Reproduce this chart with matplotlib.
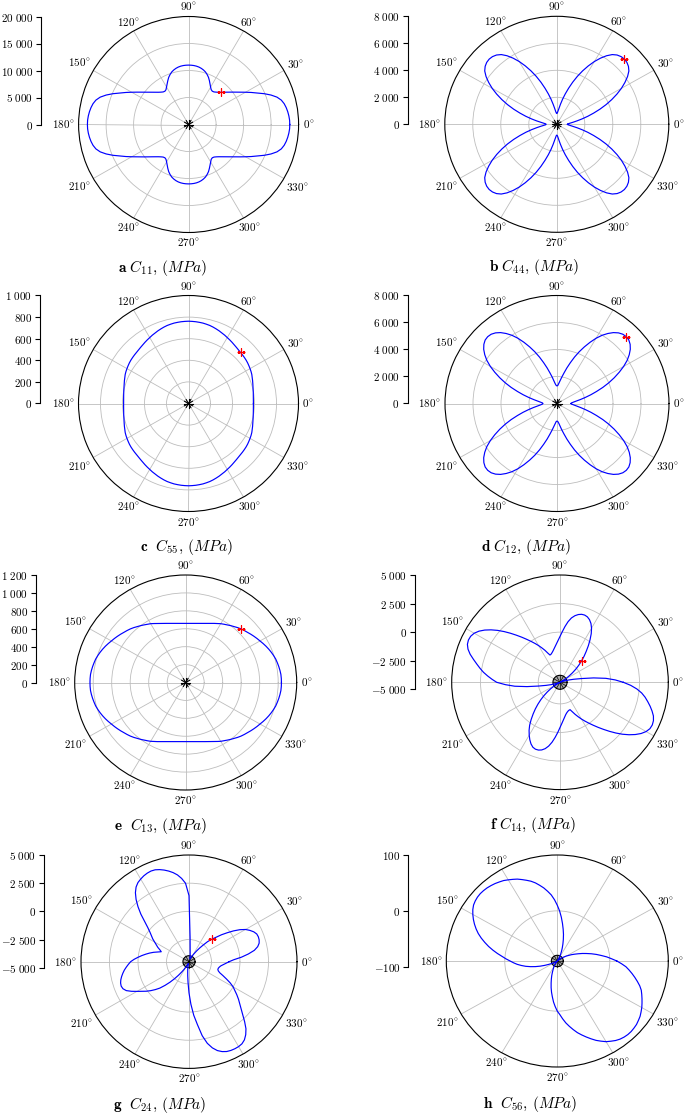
"""Polar plots of rotated stiffness components C_ij(theta), 4 x 2 panels."""
import numpy as np
import matplotlib.pyplot as plt

plt.rcParams["mathtext.fontset"] = "cm"
plt.rcParams["font.family"] = "serif"
plt.rcParams["font.serif"] = ["cmr10", "DejaVu Serif"]
plt.rcParams["axes.unicode_minus"] = False

W, H = 685, 1113

# ---- curves, MPa ----
# quarter period, 0..90 deg every 2.5 deg (curves are mirror symmetric)
ANG_Q = np.arange(0, 90.1, 2.5)
C11 = [18400, 18380, 18300, 18180, 18020, 17800, 17450, 16850, 15950, 14900,
       13800, 12850, 11950, 11150, 10450, 9850, 9300, 8850, 8450, 8100,
       7820, 7600, 7520, 7650, 8000, 8450, 8950, 9450, 9850, 10200,
       10450, 10650, 10800, 10900, 10960, 10990, 11000]
C44 = [760, 800, 950, 1170, 1470, 1850, 2290, 2760, 3280, 3810,
       4330, 4840, 5330, 5770, 6170, 6490, 6680, 6790, 6830, 6800,
       6700, 6510, 6200, 5810, 5370, 4880, 4370, 3850, 3320, 2800,
       2330, 1900, 1510, 1200, 970, 840, 800]
C55 = [590, 590.5, 592, 594.5, 598, 602, 607, 613, 620, 627,
       635, 641, 646, 651, 656, 660, 663, 666, 669, 673,
       678, 684, 691, 698, 705, 713, 720, 728, 735, 742,
       748, 752, 756, 758, 760, 761, 762]
C12 = [1000, 1046, 1180, 1400, 1700, 2070, 2500, 2960, 3480, 4000,
       4510, 5010, 5500, 5940, 6300, 6600, 6820, 6960, 7000, 6960,
       6830, 6620, 6330, 5990, 5580, 5110, 4630, 4150, 3660, 3170,
       2730, 2320, 1990, 1700, 1470, 1340, 1300]
C13 = [1035, 1034.5, 1033, 1028, 1022, 1015, 1008, 997, 985, 972,
       958, 943, 928, 914, 900, 886, 872, 859, 846, 831,
       815, 800, 785, 771, 758, 742, 728, 714, 702, 692,
       683, 676, 670, 665, 662, 660.5, 660]

# full turn, 0..357.5 deg every 2.5 deg
ANG_F = np.arange(0, 360, 2.5)
C14 = [1100, 400, -400, -1450, -2500, -3150, -3600, -3950, -4150, -4280,
       -4340, -4250, -4050, -3780, -3420, -3030, -2600, -2180, -1750, -1300,
       -850, -350, 150, 650, 1080, 1420, 1660, 1810, 1870, 1850,
       1750, 1580, 1330, 960, 500, 30, -380, -720, -1000, -1230,
       -1420, -1580, -1710, -1810, -1850, -1620, -1300, -1000, -680, -360,
       -20, 350, 760, 1200, 1680, 2180, 2680, 3150, 3580, 3940,
       4200, 4340, 4370, 4300, 4100, 3780, 3380, 3000, 2650, 2300,
       1900, 1500,
       1100, 350, -450, -1500, -2500, -3150, -3600, -3950, -4150, -4280,
       -4340, -4250, -4050, -3770, -3400, -3000, -2570, -2130, -1680, -1220,
       -760, -280, 200, 600, 950, 1280, 1560, 1760, 1840, 1830,
       1740, 1560, 1280, 900, 450, 0, -420, -780, -1080, -1320,
       -1520, -1660, -1760, -1820, -1840, -1600, -1300, -1000, -680, -360,
       -20, 350, 760, 1200, 1680, 2180, 2680, 3150, 3580, 3950,
       4230, 4400, 4440, 4380, 4230, 3980, 3700, 3400, 3100, 2750,
       2300, 1750]
C24 = [-950, -550, 150, 780, 1350, 1700, 1900, 1980, 2000, 1960,
       1800, 1550, 1250, 820, 300, -250, -750, -1250, -1650, -2050,
       -2550, -2950, -3300, -3580, -3800, -3980, -4100, -4180, -4220, -4200,
       -4130, -4030, -3870, -3680, -3350, -2300, 1400, 2500, 2950, 3300,
       3560, 3770, 3950, 4100, 4210, 4240, 4200, 4120, 4000, 3860,
       3620, 3250, 2750, 2150, 1500, 800, 250, -150, -450, -700,
       -1000, -1250, -1450, -1700, -1880, -1600, -1250, -930, -620, -300,
       20, 350,
       650, 850, 1050, 1250, 1420, 1580, 1720, 1820, 1860, 1800,
       1600, 1220, 800, 420, 100, -250, -620, -1000, -1500, -2000,
       -2500, -2950, -3350, -3650, -3900, -4080, -4200, -4270, -4290, -4250,
       -4170, -4030, -3850, -3600, -3200, -2600, -1700, -700, 300, 1150,
       2200, 2950, 3450, 3800, 4020, 4160, 4220, 4240, 4230, 4170,
       4000, 3700, 3300, 2750, 2200, 1750, 1350, 1000, 650, 300,
       0, -400, -850, -1250, -1600, -1780, -1850, -1830, -1760, -1650,
       -1450, -1200]
C56 = [12, 3, -5, -14, -22, -30, -38, -45, -52, -58,
       -63, -68, -72, -76, -79, -82, -84, -86, -87.5, -88.5,
       -89, -89, -88, -86.5, -84, -80.5, -76, -71, -65, -58,
       -50, -41, -32, -22, -11, 0, 10, 20, 29, 36,
       43, 49, 55, 60, 64, 68, 72, 75, 78, 81,
       83, 85, 86.5, 87.8, 88.5, 88.8, 88.3, 87, 85, 81.5,
       77, 72, 66.5, 60.5, 54, 46.5, 38.5, 30.5, 22, 13.5,
       5, -2,
       -9, -15, -21, -28, -35, -43, -51, -59, -67, -74,
       -79, -83, -86, -88, -89, -89.5, -89.5, -89.2, -88.7, -88,
       -87, -85.5, -83.5, -81, -78.5, -76, -72.5, -68, -62, -56,
       -49, -41, -33, -25, -16, -8, 0, 6, 14, 22,
       29, 36, 43, 49, 55, 61, 67, 72, 77, 80.5,
       84, 86.5, 88, 88.8, 88.8, 88, 87, 85, 83, 80,
       77, 73.5, 70, 66.5, 63, 58, 52, 46, 40, 34,
       28, 20]

# radial scale: ticks, value at the pole
TICKS = [
    [0, 5000, 10000, 15000, 20000],
    [0, 2000, 4000, 6000, 8000],
    [0, 200, 400, 600, 800, 1000],
    [0, 2000, 4000, 6000, 8000],
    [0, 200, 400, 600, 800, 1000, 1200],
    [-5000, -2500, 0, 2500, 5000],
    [-5000, -2500, 0, 2500, 5000],
    [-100, 0, 100],
]
POLE = [0, 0, 0, 0, 0, -4388, -4468, -89.8]

CAPTIONS = [
    r"$\mathbf{a}\ C_{11},\,(MPa)$",
    r"$\mathbf{b}\ C_{44},\,(MPa)$",
    r"$\mathbf{c}\ \ C_{55},\,(MPa)$",
    r"$\mathbf{d}\ C_{12},\,(MPa)$",
    r"$\mathbf{e}\ \ C_{13},\,(MPa)$",
    r"$\mathbf{f}\ C_{14},\,(MPa)$",
    r"$\mathbf{g}\ \ C_{24},\,(MPa)$",
    r"$\mathbf{h}\ \ C_{56},\,(MPa)$",
]

# layout in pixels: centre x, centre y, radius x, radius y, radial-axis x, caption x
LAYOUT = [
    (188.6, 124.5, 110, 108, 41.0, 162),
    (556.8, 124.3, 112, 108, 407.7, 534),
    (188.5, 403.5, 110, 108, 40.0, 186),
    (557.0, 403.5, 112, 108, 407.5, 526),
    (185.7, 682.5, 111, 107.5, 35.7, 160),
    (560.0, 682.3, 108.3, 107.3, 415.0, 533),
    (189.0, 961.7, 108, 106.7, 44.3, 160),
    (557.3, 961.0, 111, 106, 408.3, 530),
]

BLUE = "#0000ff"
GRID = "#bdbdbd"
FS = 8
GAP = 4.0


def quarter_to_full(q):
    q = np.asarray(q, float)
    deg = np.concatenate([ANG_Q, 180 - ANG_Q[::-1], 180 + ANG_Q, 360 - ANG_Q[::-1]])
    r = np.concatenate([q, q[::-1], q, q[::-1]])
    return np.deg2rad(deg), r


def turn_to_full(v):
    v = np.asarray(v, float)
    deg = np.append(ANG_F, 360)
    return np.deg2rad(deg), np.append(v, v[0])


def fmt(v):
    s = f"{abs(int(v)):,}".replace(",", r"\ ")
    return ("$-" if v < 0 else "$") + s + "$"


def draw_panel(fig, renderer, theta, r, ticks, pole, caption, lay, marker=True):
    cx, cy, rx, ry, axx, capx = lay
    lo, hi = ticks[0], ticks[-1]
    ax = fig.add_axes([(cx - rx) / W, 1 - (cy + ry) / H, 2 * rx / W, 2 * ry / H],
                      projection="polar")
    ax.set_aspect("auto")
    ax.set_ylim(pole, hi)
    ax.set_rticks([t for t in ticks if pole < t < hi])
    ax.set_yticklabels([])
    ax.set_thetagrids(range(0, 360, 30), labels=[])
    ax.grid(True, color=GRID, lw=0.6)
    ax.tick_params(axis="x", length=0)
    ax.spines["polar"].set_color("k")
    ax.spines["polar"].set_linewidth(0.8)

    per_px = (hi - pole) / ry
    spokes = np.deg2rad(np.arange(0, 360, 30))
    if lo < pole:
        # the lowest tick lies "behind" the pole: small circle round it
        rr = pole + (pole - lo)
        tc = np.linspace(0, 2 * np.pi, 100)
        ax.fill(tc, np.full_like(tc, rr), color="#a8a8a8", lw=0, zorder=2.1)
        ax.plot(tc, np.full_like(tc, rr), color="k", lw=0.8, zorder=2.2)
        for t in spokes:
            ax.plot([t, t], [pole, rr], color="k", lw=0.5, zorder=2.2)
    else:
        for t in spokes:
            ax.plot([t, t], [pole, pole + 4.5 * per_px], color="k", lw=0.8, zorder=2.2)

    ax.plot(theta, r, color=BLUE, lw=0.85, zorder=3)
    if marker:
        i45 = np.argmin(np.abs(theta - np.deg2rad(45)))
        ax.plot(theta[i45], r[i45], marker="+", color="red", ms=6, mew=0.9, zorder=4)

    # radial axis on the left
    top = cy - ry
    bot = cy + (pole - lo) / per_px
    rax = fig.add_axes([axx / W, 1 - bot / H, 0.02, (bot - top) / H])
    rax.set_ylim(lo, hi)
    for side in ("top", "right", "bottom"):
        rax.spines[side].set_visible(False)
    rax.spines["left"].set_linewidth(0.8)
    rax.patch.set_visible(False)
    rax.set_xticks([])
    rax.set_yticks(ticks)
    rax.set_yticklabels([fmt(t) for t in ticks])
    rax.tick_params(axis="y", direction="out", length=3.3, width=0.8,
                    pad=2.4, labelsize=FS)

    # angle labels around the rim
    for d in range(0, 360, 30):
        txt = fig.text(0, 0, rf"${d}^{{\!\circ}}$", ha="center", va="center",
                       fontsize=FS)
        bb = txt.get_window_extent(renderer)
        a = np.deg2rad(d)
        c, s = np.cos(a), np.sin(a)
        tx = bb.width / 2 / abs(c) if abs(c) > 1e-9 else np.inf
        ty = bb.height / 2 / abs(s) if abs(s) > 1e-9 else np.inf
        dist = min(tx, ty) + GAP
        x = cx + rx * c + dist * c
        y = cy - ry * s - dist * s
        txt.set_position((x / W, 1 - y / H))

    fig.text(capx / W, 1 - (cy + 143) / H, caption, ha="center", va="center",
             fontsize=11)


def main():
    fig = plt.figure(figsize=(W / 100, H / 100), dpi=100)
    renderer = fig.canvas.get_renderer()

    curves = [quarter_to_full(C11), quarter_to_full(C44), quarter_to_full(C55),
              quarter_to_full(C12), quarter_to_full(C13),
              turn_to_full(C14), turn_to_full(C24), turn_to_full(C56)]
    for i, (th, r) in enumerate(curves):
        draw_panel(fig, renderer, th, r, TICKS[i], POLE[i], CAPTIONS[i], LAYOUT[i],
                   marker=(i != 7))

    fig.savefig("out.png", dpi=100, facecolor="white")


if __name__ == "__main__":
    main()
